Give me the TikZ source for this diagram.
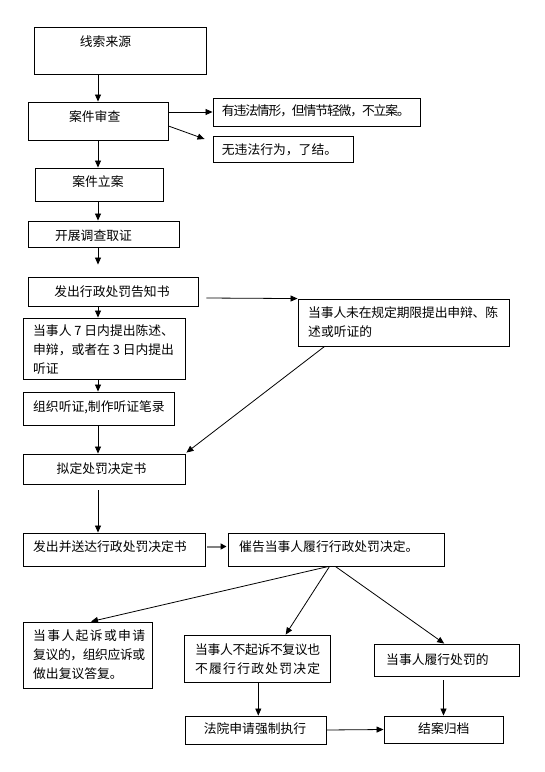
\documentclass[tikz,border=0pt]{standalone}
\usepackage{fontspec}
\setmainfont{Noto Sans CJK SC}
\usetikzlibrary{arrows.meta,calc}
\makeatletter
\def\spreadchars#1{\sp@first#1\relax}
\def\sp@first#1{#1\sp@rest}
\def\sp@rest#1{\ifx#1\relax\else\hskip 0pt plus 1fil minus 2pt #1\expandafter\sp@rest\fi}
\makeatother
\newcommand\jline[2]{\hbox to #1pt{\spreadchars{#2}}}
\begin{document}
\begin{tikzpicture}[x=1pt,y=-1pt,
  box/.style={draw,line width=0.9pt,inner sep=0pt},
  txt/.style={inner sep=0pt,font=\fontsize{12.8}{19}\selectfont,align=left},
  arr/.style={line width=0.8pt,-{Triangle[length=7pt,width=6pt]}},
  grayarr/.style={draw=black!50,line width=2pt,-{Triangle[length=6pt,width=6pt,color=black]}}
  ]
\useasboundingbox[fill=white] (0,0) rectangle (545,772);
% boxes
\node[box,minimum width=172pt,minimum height=47pt] (A) at (120,50.5) {};
\node[box,minimum width=140pt,minimum height=38pt] (B) at (98,121) {};
\node[box,minimum width=207pt,minimum height=28pt] (C1) at (316.5,112) {};
\node[box,minimum width=140pt,minimum height=26pt] (C2) at (283,149) {};
\node[box,minimum width=128pt,minimum height=33pt] (D) at (99,184.5) {};
\node[box,minimum width=151pt,minimum height=26pt] (E) at (103.5,234) {};
\node[box,minimum width=170pt,minimum height=29pt] (F) at (113,291.5) {};
\node[box,minimum width=162pt,minimum height=61pt] (G) at (104,348.5) {};
\node[box,minimum width=151pt,minimum height=33pt] (H) at (98.5,408.5) {};
\node[box,minimum width=162pt,minimum height=30pt] (I) at (104,469) {};
\node[box,minimum width=211pt,minimum height=47pt] (J) at (403.5,322.5) {};
\node[box,minimum width=182pt,minimum height=33pt] (K) at (114,549.5) {};
\node[box,minimum width=216pt,minimum height=33pt] (L) at (336,549.5) {};
\node[box,minimum width=129pt,minimum height=66pt] (M) at (87.5,655) {};
\node[box,minimum width=146pt,minimum height=47pt] (N) at (257,658.5) {};
\node[box,minimum width=145pt,minimum height=32pt] (O) at (446.5,660) {};
\node[box,minimum width=141pt,minimum height=28pt] (P) at (255.5,730) {};
\node[box,minimum width=119pt,minimum height=27pt] (Q) at (443.5,729.5) {};
% texts
\node[txt] (tA) at (105.5,42) {线索来源};
\node[txt] (tB) at (94.7,116.7) {案件审查};
\node[txt,anchor=west] (tC1) at (221.7,110.7) {\jline{188}{有违法情形，但情节轻微，不立案。}};
\node[txt,anchor=west] (tC2) at (221.7,149.3) {无违法行为，了结。};
\node[txt] (tD) at (98,181.7) {案件立案};
\node[txt] (tE) at (93.5,236) {开展调查取证};
\node[txt] (tF) at (112,292) {发出行政处罚告知书};
\node[txt,anchor=west] (tG) at (33,350) {当事人 7 日内提出陈述、\\申辩，或者在 3 日内提出\\听证};
\node[txt,anchor=west] (tH) at (33,407) {组织听证,制作听证笔录};
\node[txt] (tI) at (101.5,469) {拟定处罚决定书};
\node[txt,anchor=west] (tJ) at (308,322.5) {\jline{190}{当事人未在规定期限提出申辩、陈}\\述或听证的};
\node[txt,anchor=west] (tK) at (33,546.7) {发出并送达行政处罚决定书};
\node[txt,anchor=west] (tL) at (239,546.7) {催告当事人履行行政处罚决定。};
\node[txt,anchor=west] (tM) at (33,655) {\jline{112}{当事人起诉或申请}\\\jline{112}{复议的，组织应诉或}\\做出复议答复。};
\node[txt,anchor=west] (tN) at (195,659) {\jline{125}{当事人不起诉不复议也}\\\jline{125}{不履行行政处罚决定}};
\node[txt,anchor=west] (tO) at (386,659.5) {当事人履行处罚的};
\node[txt] (tP) at (255,728.3) {法院申请强制执行};
\node[txt] (tQ) at (443.8,729) {结案归档};
% connectors
\coordinate (sp) at (98,0);
\draw[arr] (B.north |- A.south) -- (B.north);
\draw[arr] (B.east |- C1.west) -- (C1.west);
\draw[arr] ($(B.east)+(0,5)$) -- ($(C2.west)+(-8,-10)$);
\draw[arr] (sp |- B.south) -- (sp |- D.north);
\draw[arr] (sp |- D.south) -- (sp |- E.north);
\draw[arr] (sp |- E.south) -- ($(sp |- F.north)+(0,-12)$);
\draw[arr] (sp |- F.south) -- (sp |- G.north);
\draw[arr] (sp |- G.south) -- (sp |- H.north);
\draw[arr] (sp |- H.south) -- (sp |- I.north);
\draw[arr] ($(sp |- I.south)+(0,6)$) -- (sp |- K.north);
\draw[arr] ($(F.east)+(8,6.5)$) -- (J.north west);
\draw[arr] ($(J.south west)+(27,0)$) -- ($(I.north east)+(1,-1)$);
\draw[grayarr] ($(K.east)+(2,-3)$) -- ($(L.west)+(-1,-3)$);
\draw[arr] ($(L.south)+(-7.5,0)$) -- ($(M.north)+(3.5,0)$);
\draw[arr] ($(L.south)+(-6.5,0)$) -- ($(N.north)+(28.7,0)$);
\draw[arr] ($(L.south)+(-0.6,0)$) -- ($(O.north)+(-2.3,0)$);
\coordinate (nP) at ($(N.south)+(1.3,0)$);
\draw[arr] (nP) -- (nP |- P.north);
\draw[arr] ($(Q.north |- O.south)+(0,4)$) -- (Q.north);
\draw[arr] (P.east) -- (Q.west);
\end{tikzpicture}
\end{document}
